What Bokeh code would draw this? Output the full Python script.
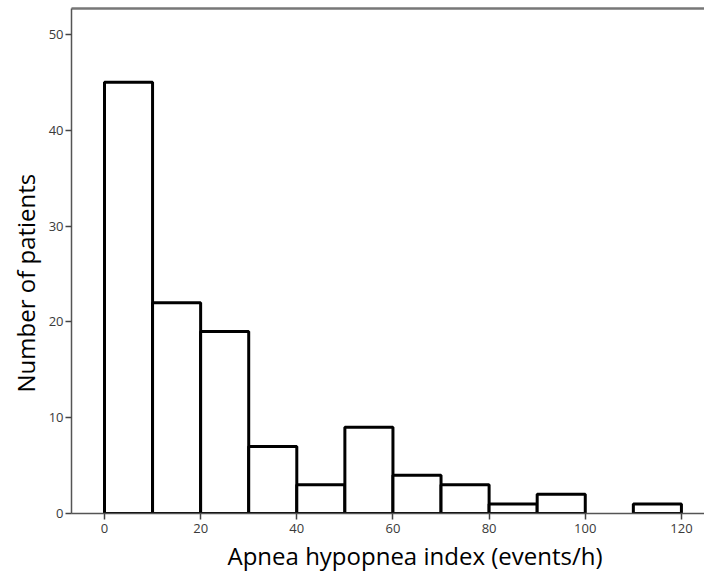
from bokeh.plotting import figure
from bokeh.models import Range1d, FixedTicker, LinearAxis, Title
from bokeh.embed import file_html
from bokeh.resources import INLINE

bin_left = [0, 10, 20, 30, 40, 50, 60, 70, 80, 90, 100, 110]
bin_right = [10, 20, 30, 40, 50, 60, 70, 80, 90, 100, 110, 120]
counts = [45, 22, 19, 7, 3, 9, 4, 3, 1, 2, 0, 1]
x_ticks = [0, 20, 40, 60, 80, 100, 120]
y_ticks = [0, 10, 20, 30, 40, 50]
x_title = "Apnea hypopnea index (events/h)"
y_title = "Number of patients"

p = figure(output_backend="svg", toolbar_location=None,
           frame_width=633, frame_height=505,
           min_border_left=71, min_border_right=0, min_border_top=8, min_border_bottom=60,
           x_range=Range1d(-6.86, 124.8), y_range=Range1d(0, 52.7))

lefts, rights, tops = [], [], []
for l, r, c in zip(bin_left, bin_right, counts):
    if c > 0:
        lefts.append(l); rights.append(r); tops.append(c)
p.quad(left=lefts, right=rights, bottom=0, top=tops,
       fill_color="white", line_color="black", line_width=3)

p.grid.visible = False
p.outline_line_color = None
p.background_fill_color = "white"
p.border_fill_color = "white"

xax = p.below[0]
yax = p.left[0]

top_axis = LinearAxis(ticker=FixedTicker(ticks=[]), major_label_text_font_size="0px",
                      major_label_standoff=0,
                      axis_line_color="#777777", axis_line_width=2.5,
                      major_tick_line_color=None, minor_tick_line_color=None,
                      major_tick_out=0, major_tick_in=0)
p.add_layout(top_axis, "above")

for ax in (xax, yax):
    ax.axis_line_color = "#555555"
    ax.axis_line_width = 1.5
    ax.major_tick_line_color = "#444444"
    ax.major_tick_line_width = 1.5
    ax.major_tick_out = 6
    ax.major_tick_in = 0
    ax.minor_tick_line_color = None
    ax.major_label_text_font = "Open Sans"
    ax.major_label_text_font_size = "13px"
    ax.major_label_text_color = "#3a3a3a"
    ax.major_label_standoff = 2

xax.ticker = FixedTicker(ticks=x_ticks)
yax.ticker = FixedTicker(ticks=y_ticks)
xax.major_label_standoff = 4

p.add_layout(Title(text=x_title, align="left", offset=156, standoff=3,
                   text_font="Open Sans", text_font_size="24px",
                   text_font_style="normal", text_color="black"), "below")
p.add_layout(Title(text=y_title, align="left", offset=121, standoff=8,
                   text_font="Open Sans", text_font_size="24px",
                   text_font_style="normal", text_color="black"), "left")

open("out.html", "w").write(file_html(p, INLINE))
